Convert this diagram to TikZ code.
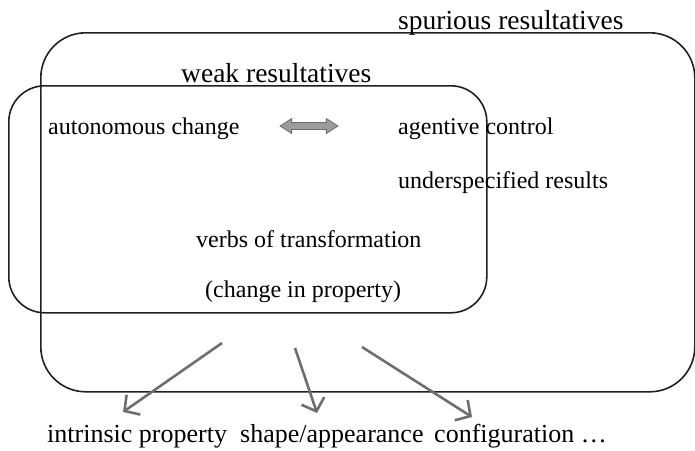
\documentclass[tikz,border=0pt]{standalone}
\usepackage{fontspec}
\setmainfont{Liberation Serif}
\usetikzlibrary{shapes.arrows,arrows.meta}
\definecolor{boxcol}{HTML}{231F20}
\definecolor{arrowcol}{HTML}{6E6E6E}
\definecolor{dblfill}{HTML}{9C9C9C}

\begin{document}
\begin{tikzpicture}[x=1pt, y=-1pt, >={Straight Barb[length=11pt,width=24pt]},
	every node/.style={font=\fontsize{24}{28}\selectfont, inner sep=0pt},
	title/.style={font=\fontsize{27.5}{32}\selectfont, anchor=base west},
	item/.style={anchor=base west},
	kind/.style={font=\fontsize{26}{30}\selectfont, anchor=base west},
	box/.style={draw=boxcol, line width=1.6pt, anchor=north west},
	link/.style={->, draw=arrowcol, line width=2.6pt}]

	\useasboundingbox (0,0) rectangle (695,450);

	% sets
	\node [box, rounded corners=45pt, minimum width=654pt, minimum height=359pt] (spurious) at (40,32) {};
	\node [box, rounded corners=36pt, minimum width=478pt, minimum height=227pt] (weak) at (8,85) {};

	% headings
	\node [title] (spurious-label) at (398,29) {spurious resultatives};
	\node [title] (weak-label) at (181,82) {weak resultatives};

	% items
	\foreach \n/\x/\y/\l in {auto/48/134/autonomous change, agent/398/134/agentive control,
		under/398/188/underspecified results, verbs/196/247/verbs of transformation,
		prop/205/297/(change in property)}
		\node [item] (\n) at (\x,\y) {\l};

	% double arrow
	\node [double arrow, draw=arrowcol, fill=dblfill, line width=0.8pt, inner sep=3pt,
		minimum height=58pt, double arrow head extend=4pt, double arrow tip angle=65] (swap) at (309,126) {};

	% kinds of property
	\foreach \n/\x/\l in {intrinsic/47/{intrinsic property}, shape/240/{shape/appearance},
		config/434/{configuration …}}
		\node [kind] (\n) at (\x,442) {\l};

	% arrows
	\foreach \i/\sx/\sy/\ex/\ey in {1/222/343/123/412, 2/295/348/317/413, 3/362/347/472/417}
	{
		\coordinate (from-\i) at (\sx,\sy);
		\coordinate (to-\i) at (\ex,\ey);
		\draw [link] (from-\i) -- (to-\i);
	}

\end{tikzpicture}
\end{document}
